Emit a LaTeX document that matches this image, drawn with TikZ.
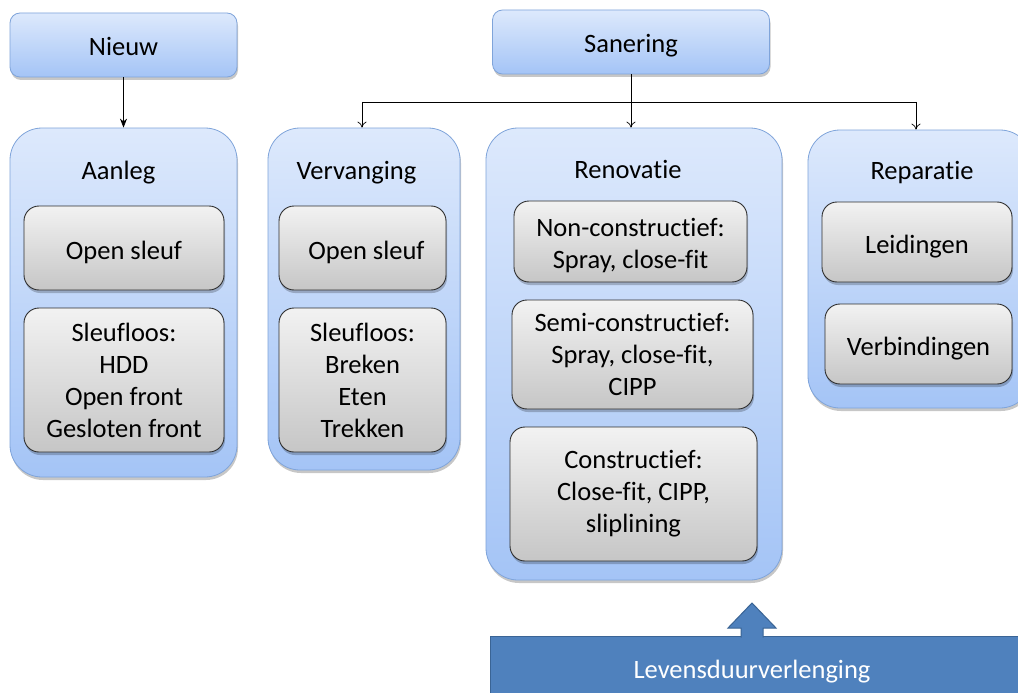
\documentclass[tikz,border=0pt]{standalone}
\usepackage{fontspec}
\setmainfont{Carlito}[Ligatures={NoCommon,NoRequired,NoContextual}]
\usetikzlibrary{arrows.meta,shadows}

\definecolor{panelTop}{HTML}{DDE9FC}
\definecolor{panelBot}{HTML}{A4C4F6}
\definecolor{panelLine}{HTML}{7FA4DA}
\definecolor{itemTop}{HTML}{F2F2F2}
\definecolor{itemBot}{HTML}{C6C6C6}
\definecolor{itemLine}{HTML}{2E2E2E}
\definecolor{bandFill}{HTML}{4F81BD}
\definecolor{bandLine}{HTML}{3A6495}

\tikzset{
  soft shadow/.style={drop shadow={opacity=0.22,shadow xshift=1pt,shadow yshift=-3pt,fill=black}},
  headbox/.style={draw=panelLine,line width=0.8pt,rounded corners=10pt,
    top color=panelTop,bottom color=panelBot,soft shadow,
    minimum width=#1,minimum height=64pt,inner sep=0pt,oneline},
  panel/.style={draw=panelLine,line width=0.8pt,rounded corners=32pt,
    top color=panelTop,bottom color=panelBot,soft shadow,inner sep=0pt},
  item/.style={draw=itemLine,line width=0.9pt,rounded corners=15pt,
    top color=itemTop,bottom color=itemBot,soft shadow,inner sep=0pt,
    align=center},
  lbl/.style={font=\fontsize{26.5}{32}\selectfont,text=black,align=center},
  oneline/.style={text height=22pt,text depth=0pt},
  link/.style={draw=black,line width=0.7pt},
  open tip/.style={-{To[length=6pt,width=9pt]}},
}

\begin{document}
\begin{tikzpicture}[x=1pt,y=-1pt,lbl]
\clip (0,0) rectangle (1018,693);
\fill[white] (0,0) rectangle (1018,693);

% top level
\node[headbox=227pt] (nieuw) at (123.5,45) {Nieuw};
\node[headbox=277pt] (sanering) at (631,42) {Sanering};

% panels
\node[panel,minimum width=227pt,minimum height=349pt] (aanleg) at (123.5,302.5) {};
\node[panel,minimum width=192pt,minimum height=342pt] (vervanging) at (364,299) {};
\node[panel,minimum width=296pt,minimum height=452pt] (renovatie) at (634,354) {};
\node[panel,minimum width=224pt,minimum height=278pt] (reparatie) at (920,269) {};

\node[oneline] (aanlegT) at (118.5,168) {Aanleg};
\node[oneline] (vervangingT) at (356.5,168) {Vervanging};
\node[oneline] (renovatieT) at (628,167) {Renovatie};
\node[oneline] (reparatieT) at (922,168) {Reparatie};

% items
\node[item,oneline,minimum width=200pt,minimum height=84pt] (a1) at (124,248) {Open sleuf};
\node[item,minimum width=200pt,minimum height=144pt] (a2) at (124,380) {Sleufloos:\\HDD\\Open front\\Gesloten front};
\node[item,oneline,minimum width=167pt,minimum height=84pt] (v1) at (362.5,248) {\hspace*{8pt}Open sleuf};
\node[item,minimum width=167pt,minimum height=144pt] (v2) at (362.5,380) {Sleufloos:\\Breken\\Eten\\Trekken};
\node[item,minimum width=233pt,minimum height=81pt] (r1) at (630.5,241.5) {\rule{0pt}{26pt}Non-constructief:\\Spray, close-fit};
\node[item,minimum width=241pt,minimum height=109pt] (r2) at (632.5,354.5) {Semi-constructief:\\Spray, close-fit,\\CIPP};
\node[item,minimum width=247pt,minimum height=134pt] (r3) at (633.5,494) {Constructief:\\Close-fit, CIPP,\\sliplining};
\node[item,oneline,minimum width=190pt,minimum height=80pt] (p1) at (917,242) {Leidingen};
\node[item,oneline,minimum width=187pt,minimum height=80pt] (p2) at (918.5,344) {Verbindingen};

% connectors
\draw[link,-{Stealth[length=9pt,width=7pt]}] (nieuw.south) -- (aanleg.north);
\coordinate (hub) at (631,102);
\coordinate (hubL) at (362,102);
\coordinate (hubR) at (916,102);
\draw[link] (sanering.south) -- (hub);
\draw[link] (hubL) -- (hubR);
\draw[link,open tip] (hubL) -- (hubL |- vervanging.north);
\draw[link,open tip] (hub) -- (hub |- renovatie.north);
\draw[link,open tip] (hubR) -- (hubR |- reparatie.north);

% life-extension band with its block arrow
\node[draw=bandLine,line width=1pt,fill=bandFill,minimum width=540pt,minimum height=70pt,
  anchor=north west,inner sep=0pt] (band) at (490,636) {};
\fill[bandFill,draw=bandLine,line width=1pt]
  (741,637.5) -- (741,628) -- (728,628) -- (752,603) -- (776,628) -- (763,628) -- (763,637.5);
\fill[bandFill] (741.6,629) rectangle (762.4,638);
\node[oneline,text=white] (bandT) at (752,667) {Levensduurverlenging};
\end{tikzpicture}
\end{document}
